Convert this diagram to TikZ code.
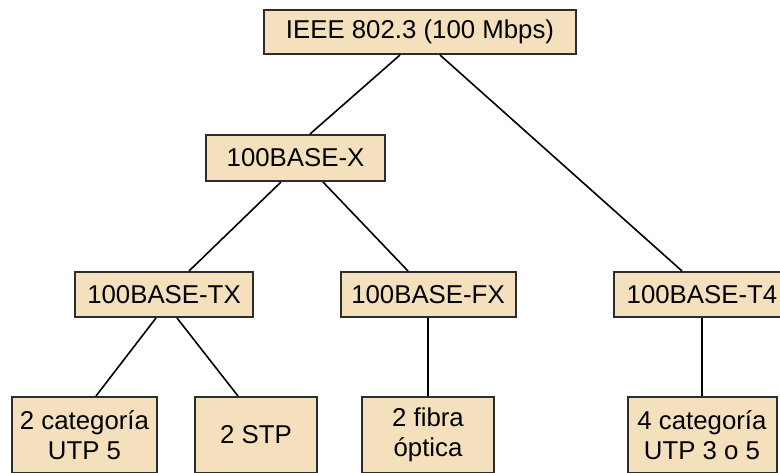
\documentclass[tikz,border=0pt]{standalone}
\usepackage{fontspec}
\setmainfont{Liberation Sans}
\usetikzlibrary{positioning}
\definecolor{boxfill}{RGB}{245,224,190}
\definecolor{boxline}{RGB}{45,45,45}

\begin{document}
\begin{tikzpicture}[x=1pt, y=-1pt,
  box/.style={draw=boxline, line width=2pt, fill=boxfill, align=center,
              inner sep=0pt, font=\fontsize{25.8}{30}\selectfont},
  wide/.style={box, minimum width=#1, minimum height=45},
  tall/.style={box, minimum width=#1, minimum height=76},
  link/.style={line width=1.6pt}]
\useasboundingbox (0,0) rectangle (780,472);
% levels of the tree
\node[wide=312, minimum height=44] (root) at (420,32) {IEEE 802.3 (100 Mbps)};
\node[wide=179, minimum height=46] (bx) at (295.5,158) {100BASE-X};
\node[wide=178] (tx) at (164,294.5) {100BASE-TX};
\node[wide=175] (fx) at (428,294.5) {100BASE-FX};
\node[wide=176] (t4) at (702,294.5) {100BASE-T4};
\node[tall=145] (utp5) at (84.5,435) {2 categoría\\UTP 5};
\node[tall=122] (stp) at (256,435) {2 STP};
\node[tall=132] (fibra) at (428,435) {2 fibra\\óptica};
\node[tall=149] (utp35) at (702,435) {4 categoría\\UTP 3 o 5};
% connectors
\draw[link] ([xshift=-20pt]root.south) -- ([xshift=14.5pt]bx.north);
\draw[link] ([xshift=20pt]root.south) -- ([xshift=-20pt]t4.north);
\draw[link] ([xshift=-14.5pt]bx.south) -- ([xshift=25pt]tx.north);
\draw[link] ([xshift=27.5pt]bx.south) -- ([xshift=-20pt]fx.north);
\draw[link] ([xshift=-8pt]tx.south) -- ([xshift=11.5pt]utp5.north);
\draw[link] ([xshift=13pt]tx.south) -- ([xshift=-18pt]stp.north);
\draw[link] (fx.south) -- (fibra.north);
\draw[link] (t4.south) -- (utp35.north);
\end{tikzpicture}
\end{document}
